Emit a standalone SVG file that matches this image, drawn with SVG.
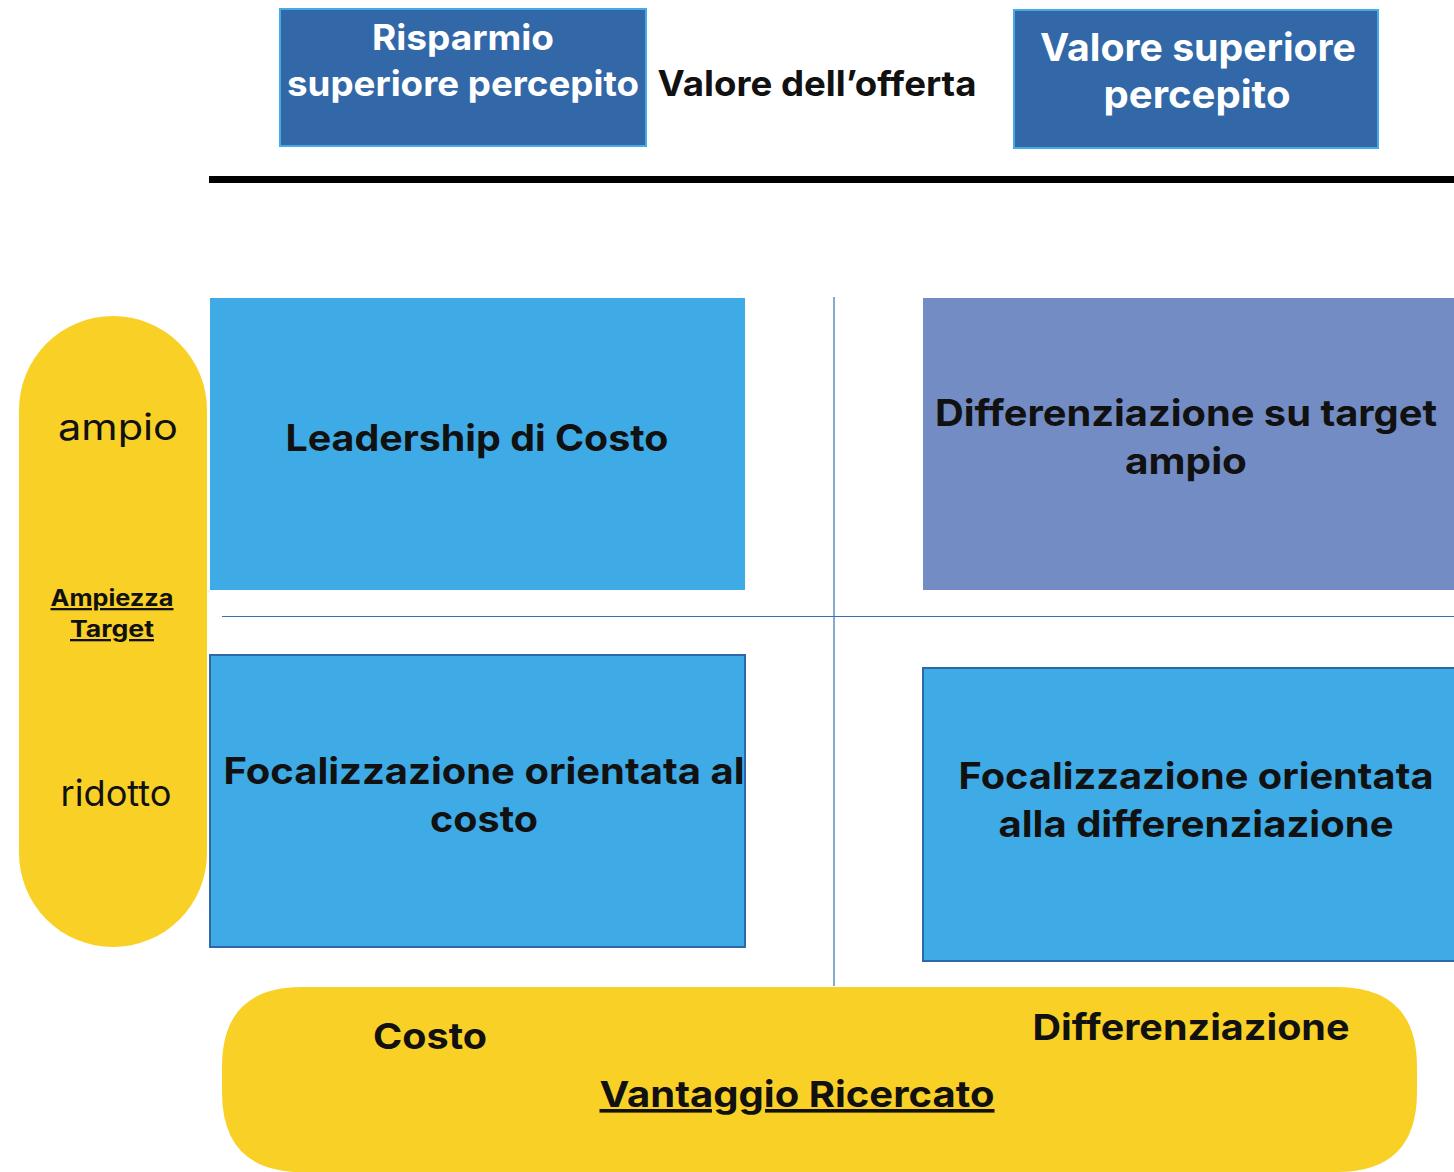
<svg xmlns="http://www.w3.org/2000/svg" width="1454" height="1172" viewBox="0 0 1454 1172">
  <style>
    .t { font-family: Inter, "Noto Sans", "Liberation Sans", sans-serif; font-weight: 700; fill: #111; }
    .w { fill: #ffffff; }
    .r { font-family: Inter, "Noto Sans", "Liberation Sans", sans-serif; font-weight: 400; fill: #111; }
    .hdr { fill: #3268a7; stroke: #45aae6; stroke-width: 2; }
    .quad { fill: #3fabe6; }
    .quadb { fill: #3fabe6; stroke: #2f67a8; stroke-width: 2; }
    .pill { fill: #f9d025; }
    .axis { stroke: #3a6eae; stroke-width: 1.2; fill: none; }
  </style>

  <!-- header labels -->
  <g id="risparmio">
    <rect class="hdr" x="280" y="9" width="366" height="137"/>
    <text class="t w" x="463" y="50" font-size="35" text-anchor="middle" textLength="182" lengthAdjust="spacingAndGlyphs">Risparmio</text>
    <text class="t w" x="463" y="96" font-size="35" text-anchor="middle" textLength="352" lengthAdjust="spacingAndGlyphs">superiore percepito</text>
  </g>
  <g id="valore-offerta">
    <text class="t" x="817" y="96" font-size="35" text-anchor="middle" textLength="319" lengthAdjust="spacingAndGlyphs">Valore dell’offerta</text>
  </g>
  <g id="valore-superiore">
    <rect class="hdr" x="1014" y="10" width="364" height="138"/>
    <text class="t w" x="1198" y="61" font-size="38" text-anchor="middle" textLength="316" lengthAdjust="spacingAndGlyphs">Valore superiore</text>
    <text class="t w" x="1197" y="108" font-size="38" text-anchor="middle" textLength="187" lengthAdjust="spacingAndGlyphs">percepito</text>
  </g>

  <!-- axes -->
  <g id="connectors">
    <rect x="209" y="176" width="1245" height="7" fill="#000"/>
    <line class="axis" x1="834" y1="297" x2="834" y2="986"/>
    <line class="axis" x1="222" y1="616.5" x2="1454" y2="616.5"/>
  </g>

  <!-- quadrants -->
  <g id="leadership-costo">
    <rect class="quad" x="210" y="298" width="535" height="292"/>
    <text class="t" x="477" y="451" font-size="37" text-anchor="middle" textLength="383" lengthAdjust="spacingAndGlyphs">Leadership di Costo</text>
  </g>
  <g id="differenziazione-ampio">
    <rect x="923" y="298" width="531" height="292" fill="#738cc3"/>
    <text class="t" x="1186" y="426" font-size="37" text-anchor="middle" textLength="502" lengthAdjust="spacingAndGlyphs">Differenziazione su target</text>
    <text class="t" x="1186" y="474" font-size="37" text-anchor="middle" textLength="122" lengthAdjust="spacingAndGlyphs">ampio</text>
  </g>
  <g id="focalizzazione-costo">
    <rect class="quadb" x="210" y="655" width="535" height="292"/>
    <text class="t" x="484" y="784" font-size="37" text-anchor="middle" textLength="521" lengthAdjust="spacingAndGlyphs">Focalizzazione orientata al</text>
    <text class="t" x="484" y="832" font-size="37" text-anchor="middle" textLength="108" lengthAdjust="spacingAndGlyphs">costo</text>
  </g>
  <g id="focalizzazione-differenziazione">
    <rect class="quadb" x="923" y="668" width="533" height="293"/>
    <text class="t" x="1196" y="789" font-size="37" text-anchor="middle" textLength="475" lengthAdjust="spacingAndGlyphs">Focalizzazione orientata</text>
    <text class="t" x="1196" y="837" font-size="37" text-anchor="middle" textLength="395" lengthAdjust="spacingAndGlyphs">alla differenziazione</text>
  </g>

  <!-- target breadth axis -->
  <g id="ampiezza-target">
    <rect class="pill" x="19" y="316" width="188" height="631" rx="94" ry="94"/>
    <text class="r" x="118" y="440" font-size="36" text-anchor="middle" textLength="120" lengthAdjust="spacingAndGlyphs">ampio</text>
    <text class="t" x="112" y="606" font-size="23" text-anchor="middle" text-decoration="underline" textLength="123" lengthAdjust="spacingAndGlyphs">Ampiezza</text>
    <text class="t" x="112" y="637" font-size="23" text-anchor="middle" text-decoration="underline" textLength="84" lengthAdjust="spacingAndGlyphs">Target</text>
    <text class="r" x="116" y="806" font-size="36" text-anchor="middle" textLength="111" lengthAdjust="spacingAndGlyphs">ridotto</text>
  </g>

  <!-- advantage axis -->
  <g id="vantaggio-ricercato">
    <path class="pill" d="M302 987 H1337 Q1417 987 1417 1067 V1092 Q1417 1172 1337 1172 H302 Q222 1172 222 1092 V1067 Q222 987 302 987 Z"/>
    <text class="t" x="430" y="1049" font-size="36" text-anchor="middle" textLength="114" lengthAdjust="spacingAndGlyphs">Costo</text>
    <text class="t" x="1191" y="1040" font-size="36" text-anchor="middle" textLength="317" lengthAdjust="spacingAndGlyphs">Differenziazione</text>
    <text class="t" x="797" y="1107" font-size="36" text-anchor="middle" text-decoration="underline" textLength="395" lengthAdjust="spacingAndGlyphs">Vantaggio Ricercato</text>
  </g>
</svg>
